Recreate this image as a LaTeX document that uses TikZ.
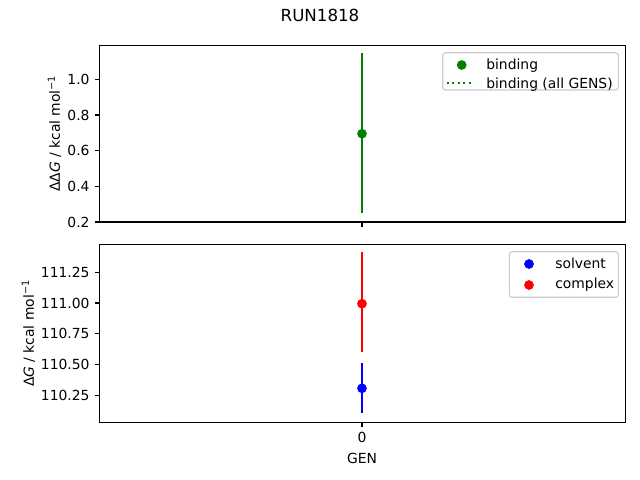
\documentclass[tikz,border=0pt]{standalone}
\usepackage{fontspec}
\setmainfont{DejaVu Sans}
\usepackage{xcolor}
\usepackage{tikz}
\usetikzlibrary{positioning}
\definecolor{mplgreen}{HTML}{008000}
\definecolor{mplblue}{HTML}{0000FF}
\definecolor{mplred}{HTML}{FF0000}
\definecolor{legendedge}{HTML}{CCCCCC}
\tikzstyle{frame} = [line width=0.8pt, black]
\tikzstyle{ticmark} = [line width=0.8pt, black]
\tikzstyle{ylab} = [anchor=east, inner sep=0pt]
\tikzstyle{xlab} = [anchor=north, inner sep=0pt]
\tikzstyle{axlabel} = [inner sep=0pt]
\tikzstyle{errbar} = [line width=1.5pt]
\tikzstyle{dot} = [circle, inner sep=0pt, minimum size=7pt]
\tikzstyle{legendframe} = [draw=legendedge, fill=white, line width=0.8pt, rounded corners=2pt]
\tikzstyle{legtext} = [anchor=base west, inner sep=0pt]

\begin{document}
\begin{tikzpicture}
		[x=0.72pt, y=-0.72pt]
		\useasboundingbox (0,0) rectangle (640,480);
		\node[anchor=base, inner sep=0pt, font=\fontsize{12}{14}\selectfont] (title) at (320,21.7) {RUN1818};
		
		% upper panel: binding
		\draw[frame] (99.5,45.3) rectangle (625.5,222);
		\draw[ticmark] (99.5,79.3) -- ++(-4.86,0);
		\draw[ticmark] (99.5,115) -- ++(-4.86,0);
		\draw[ticmark] (99.5,150.6) -- ++(-4.86,0);
		\draw[ticmark] (99.5,186.3) -- ++(-4.86,0);
		\draw[ticmark] (99.5,222) -- ++(-4.86,0);
		\draw[ticmark] (362,222) -- ++(0,4.86);
		\node[ylab] (ytop10) at (89.8,79.3) {1.0};
		\node[ylab] (ytop08) at (89.8,115) {0.8};
		\node[ylab] (ytop06) at (89.8,150.6) {0.6};
		\node[ylab] (ytop04) at (89.8,186.3) {0.4};
		\node[ylab] (ytop02) at (89.8,222) {0.2};
		\node[axlabel, rotate=90, anchor=south] (ylabtop) at (61.5,133.6) {ΔΔ\textit{G} / kcal mol\textsuperscript{−1}};
		
		\coordinate (bindhi) at (362,53.3);
		\coordinate (bindlo) at (362,213.3);
		\draw[errbar, mplgreen] (bindhi) -- (bindlo);
		\node[dot, fill=mplgreen] (bind) at (362,133.7) {};
		
		\draw[legendframe] (442.7,52.7) rectangle (618.3,90);
		\node[dot, fill=mplgreen] (legbind) at (461.7,65) {};
		\coordinate (legallA) at (446.7,83.3);
		\coordinate (legallB) at (471.7,83.3);
		\draw[errbar, mplgreen, dash pattern=on 1.5pt off 2.5pt] (legallA) -- (legallB);
		\node[legtext] (legbindtxt) at (486,69.5) {binding};
		\node[legtext] (legalltxt) at (486,88.3) {binding (all GENS)};
		
		% lower panel: solvent and complex
		\draw[frame] (99.5,244.5) rectangle (625.5,422.3);
		\draw[ticmark] (99.5,272.3) -- ++(-4.86,0);
		\draw[ticmark] (99.5,303.05) -- ++(-4.86,0);
		\draw[ticmark] (99.5,333.8) -- ++(-4.86,0);
		\draw[ticmark] (99.5,364.55) -- ++(-4.86,0);
		\draw[ticmark] (99.5,395.3) -- ++(-4.86,0);
		\draw[ticmark] (362,422.3) -- ++(0,4.86);
		\node[ylab] (ybot125) at (89.8,272.3) {111.25};
		\node[ylab] (ybot100) at (89.8,303.05) {111.00};
		\node[ylab] (ybot075) at (89.8,333.8) {110.75};
		\node[ylab] (ybot050) at (89.8,364.55) {110.50};
		\node[ylab] (ybot025) at (89.8,395.3) {110.25};
		\node[axlabel, rotate=90, anchor=south] (ylabbot) at (35.5,333.4) {Δ\textit{G} / kcal mol\textsuperscript{−1}};
		\node[xlab] (xtick0) at (362,432.1) {0};
		\node[xlab, below=6.8pt of xtick0] (xlabel) {GEN};
		
		\coordinate (cplxhi) at (362,252.3);
		\coordinate (cplxlo) at (362,352.3);
		\draw[errbar, mplred] (cplxhi) -- (cplxlo);
		\node[dot, fill=mplred] (cplx) at (362,303.7) {};
		\coordinate (solvhi) at (362,363);
		\coordinate (solvlo) at (362,413.3);
		\draw[errbar, mplblue] (solvhi) -- (solvlo);
		\node[dot, fill=mplblue] (solv) at (362,388.3) {};
		
		\draw[legendframe] (509.3,251.7) rectangle (618.3,297.3);
		\node[dot, fill=mplblue] (legsolv) at (529,264) {};
		\node[dot, fill=mplred] (legcplx) at (529,285) {};
		\node[legtext] (legsolvtxt) at (555,268.3) {solvent};
		\node[legtext] (legcplxtxt) at (555,288.8) {complex};
		\end{tikzpicture}
\end{document}
